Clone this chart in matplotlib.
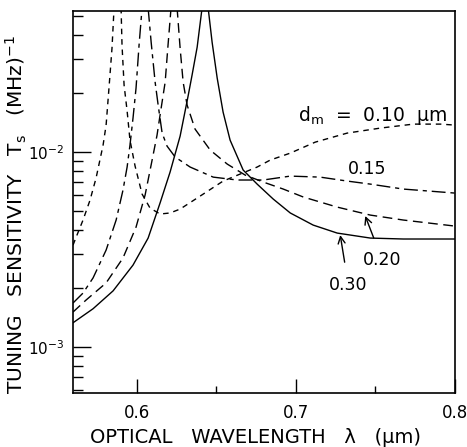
import numpy as np
import matplotlib
matplotlib.use('Agg')
import matplotlib.pyplot as plt
from matplotlib.ticker import LogLocator, NullFormatter, FixedLocator

# values (wavelength in um, sensitivity in 1/MHz)
# each thickness has two branches, left and right of its pole
lam_010a = [0.560, 0.5625, 0.5663, 0.5707, 0.5745, 0.5789, 0.5808, 0.5826, 0.5845, 0.5858]
ts_010a = [0.00333, 0.00375, 0.00448, 0.00567, 0.00736, 0.01086, 0.01376, 0.02129, 0.03415, 0.055]
lam_010b = [0.5902, 0.5908, 0.5921, 0.5940, 0.5958, 0.5990, 0.6034, 0.6084, 0.6147, 0.6210, 0.6273,
            0.6380, 0.6543, 0.6757, 0.6839, 0.6965, 0.7122, 0.7323, 0.7531, 0.7738, 0.7908, 0.800]
ts_010b = [0.055, 0.03538, 0.02206, 0.01626, 0.01152, 0.00848, 0.00609, 0.00516, 0.00481, 0.00487, 0.00510,
           0.00581, 0.00710, 0.00838, 0.00910, 0.00988, 0.01125, 0.01252, 0.01328, 0.01392, 0.01392, 0.01376]

lam_015a = [0.560, 0.5663, 0.5726, 0.5808, 0.5871, 0.5914, 0.5940, 0.5958, 0.5977, 0.5996, 0.6015, 0.6034]
ts_015a = [0.00168, 0.00189, 0.00226, 0.00314, 0.00448, 0.00638, 0.00838, 0.01086, 0.01494, 0.02129,
           0.03538, 0.055]
lam_015b = [0.6072, 0.6091, 0.6116, 0.6135, 0.6160, 0.6191, 0.6242, 0.6336, 0.6481, 0.6631, 0.6795,
            0.6965, 0.7153, 0.7323, 0.7468, 0.7675, 0.800]
ts_015b = [0.055, 0.03665, 0.02286, 0.01742, 0.01252, 0.01073, 0.00943, 0.00838, 0.00744, 0.00719, 0.00719,
           0.00753, 0.00744, 0.00710, 0.00685, 0.00646, 0.00616]

lam_020a = [0.560, 0.5682, 0.5808, 0.5914, 0.5996, 0.6053, 0.6097, 0.6128, 0.6147, 0.6179, 0.6197, 0.6216]
ts_020a = [0.00151, 0.00174, 0.00213, 0.00286, 0.00412, 0.00602, 0.00910, 0.01222, 0.01548, 0.02286,
           0.03538, 0.055]
lam_020b = [0.6254, 0.6273, 0.6292, 0.6317, 0.6367, 0.6462, 0.6569, 0.6682, 0.6795, 0.6921,
            0.7047, 0.7260, 0.7468, 0.7675, 0.800]
ts_020b = [0.055, 0.03415, 0.02286, 0.01742, 0.01312, 0.01024, 0.00868, 0.00762, 0.00702, 0.00646,
           0.00588, 0.00522, 0.00475, 0.00448, 0.00417]

lam_030a = [0.560, 0.5726, 0.5852, 0.5977, 0.6072, 0.6147, 0.6210, 0.6273, 0.6298, 0.6323, 0.6348,
            0.6380, 0.6411]
ts_030a = [0.00133, 0.00157, 0.00194, 0.00263, 0.00362, 0.00548, 0.00790, 0.01208, 0.01530, 0.01937,
           0.02483, 0.03455, 0.055]
lam_030b = [0.6449, 0.6474, 0.6506, 0.6543, 0.6587, 0.6669, 0.6757, 0.6858, 0.6965, 0.7109, 0.7260,
            0.7468, 0.7675, 0.800]
ts_030b = [0.055, 0.03665, 0.02396, 0.01604, 0.01152, 0.00809, 0.00685, 0.00574, 0.00487, 0.00422,
           0.00384, 0.00362, 0.00358, 0.00358]

xticks = [0.6, 0.7, 0.8]
xtick_labels = ['0.6', '0.7', '0.8']

plt.rcParams['font.family'] = ['DejaVu Sans']
plt.rcParams['mathtext.fontset'] = 'dejavusans'

fig = plt.figure(figsize=(4.67, 4.47), dpi=100)
ax = fig.add_axes([73/467, 54/447, 382/467, 382/447])

lw = 1.0
ax.plot(lam_010a, ts_010a, color='k', lw=lw, dashes=(4, 3.5))
ax.plot(lam_010b, ts_010b, color='k', lw=lw, dashes=(4, 3.5))
ax.plot(lam_015a, ts_015a, color='k', lw=lw, dashes=(10, 3.5, 3, 3.5))
ax.plot(lam_015b, ts_015b, color='k', lw=lw, dashes=(10, 3.5, 3, 3.5))
ax.plot(lam_020a, ts_020a, color='k', lw=lw, dashes=(7, 4))
ax.plot(lam_020b, ts_020b, color='k', lw=lw, dashes=(7, 4))
ax.plot(lam_030a, ts_030a, color='k', lw=lw)
ax.plot(lam_030b, ts_030b, color='k', lw=lw)

ax.set_yscale('log')
ax.set_xlim(0.56, 0.80)
ax.set_ylim(5.8e-4, 5.3e-2)

ax.xaxis.set_major_locator(FixedLocator(xticks))
ax.set_xticklabels(xtick_labels)
ax.xaxis.set_minor_locator(FixedLocator([0.65, 0.75]))
ax.yaxis.set_major_locator(LogLocator(base=10, numticks=10))
ax.yaxis.set_minor_locator(LogLocator(base=10, subs=np.arange(2, 10), numticks=10))
ax.yaxis.set_minor_formatter(NullFormatter())

ax.tick_params(which='both', direction='in', top=False, right=False, labelsize=12)
ax.tick_params(axis='x', which='major', length=10, width=1, pad=8)
ax.tick_params(axis='x', which='minor', length=5, width=1)
ax.tick_params(axis='y', which='major', length=13, width=1, pad=6, labelsize=11)
ax.tick_params(axis='y', which='minor', length=7, width=1)
for s in ax.spines.values():
    s.set_linewidth(1.2)

fig.text(256/467, 4/447, 'OPTICAL   WAVELENGTH   \u03bb   (\u03bcm)', fontsize=14,
         ha='center', va='baseline')
fig.text(16/467, 1 - 215/447, 'TUNING   SENSITIVITY   T$_{\\mathrm{s}}$   (MHz)$^{-1}$', fontsize=14.5,
         ha='center', va='center', rotation=90)

ax.text(0.7015, 0.01549, 'd$_{\\mathrm{m}}$  =  0.10  \u03bcm', fontsize=13.5, ha='left', va='center')
ax.text(0.7449, 0.00818, '0.15', fontsize=12.5, ha='center', va='center')
ax.annotate('0.20', xy=(0.7436, 0.00470), xytext=(0.7543, 0.00279), fontsize=12.5,
            ha='center', va='center',
            arrowprops=dict(arrowstyle='->', color='k', lw=1, shrinkA=8, shrinkB=0))
ax.annotate('0.30', xy=(0.7279, 0.00375), xytext=(0.7330, 0.00208), fontsize=12.5,
            ha='center', va='center',
            arrowprops=dict(arrowstyle='->', color='k', lw=1, shrinkA=8, shrinkB=0))

fig.savefig('out.png', dpi=100)
